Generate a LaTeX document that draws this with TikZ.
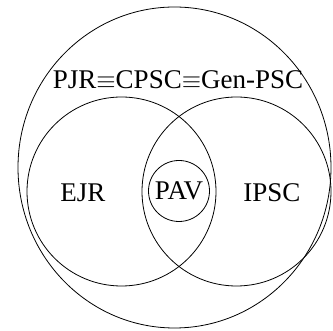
\documentclass[tikz,border=0pt]{standalone}
\usepackage{fontspec}
\setmainfont{Liberation Serif}
\usepackage{tikz}
\usetikzlibrary{positioning,shapes.geometric}

\begin{document}
\begin{tikzpicture}[x=1pt,y=-1pt,
    set/.style={draw,circle,inner sep=0pt,line width=0.8pt},
    lbl/.style={font=\fontsize{27}{31}\selectfont}]
  \useasboundingbox (0,0) rectangle (333,331);
  % outer set and the two overlapping sets
  \node[set,ellipse,minimum width=313pt,minimum height=321pt] (all) at (174.5,167.5) {};
  \node[set,minimum size=189pt] (ejr) at (121.5,191.5) {};
  \node[set,minimum size=189pt] (ipsc) at (236.5,191.5) {};
  \node[set,minimum size=61pt] (pav) at (179,191) {};
  % labels
  \node[lbl] (alllbl) at (178,80) {PJR$\equiv$CPSC$\equiv$Gen-PSC};
  \node[lbl] (ejrlbl) at (83,193) {EJR};
  \node[lbl] (ipsclbl) at (272,193) {IPSC};
  \node[lbl] (pavlbl) at (pav) {PAV};
\end{tikzpicture}
\end{document}
